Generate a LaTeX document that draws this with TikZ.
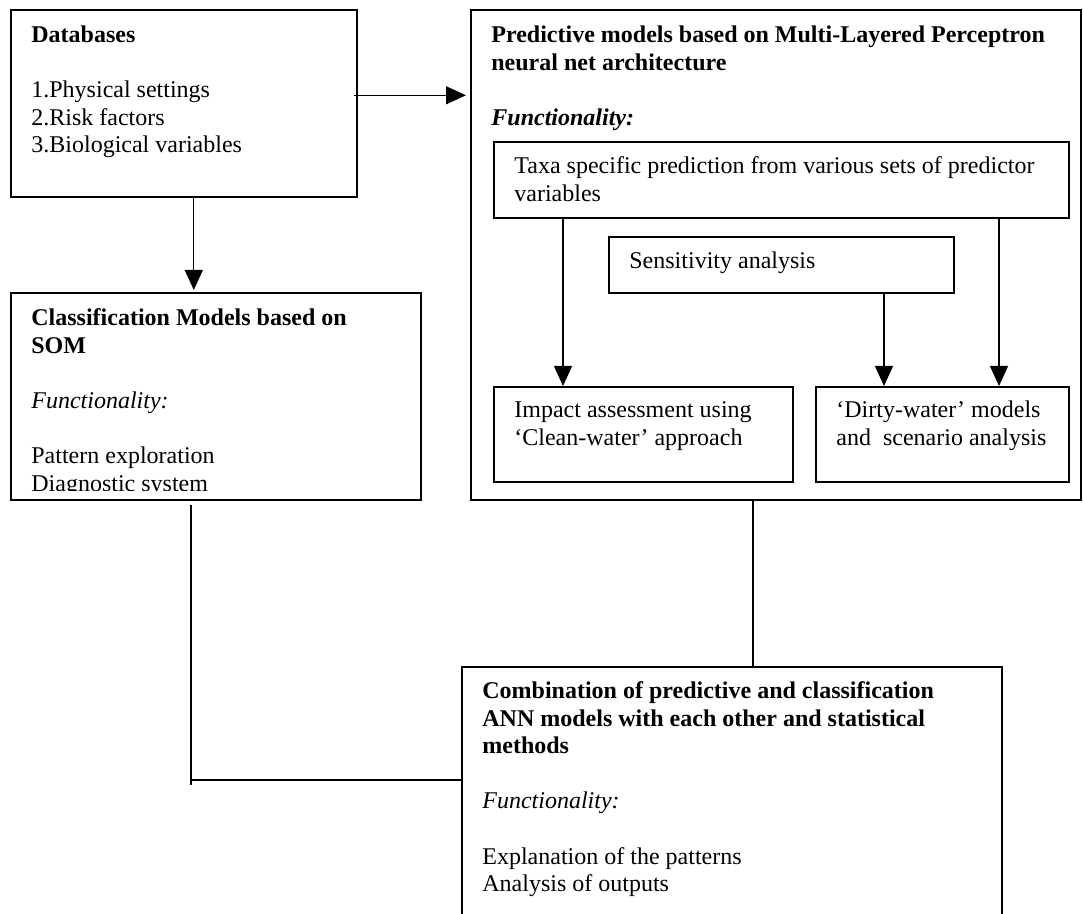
\documentclass[tikz,border=0pt]{standalone}
\usepackage{fontspec}
\setmainfont{Liberation Serif}
\usetikzlibrary{arrows.meta}

\begin{document}
\begin{tikzpicture}[x=0.5pt,y=-0.5pt,
  box/.style={draw, line width=0.8pt, inner sep=0pt, anchor=north west},
  txt/.style={inner sep=0pt, anchor=north west, align=left, font=\fontsize{12}{13.8}\selectfont},
  link/.style={line width=0.6pt},
  arr/.style={line width=0.6pt, -{Triangle[length=10pt,width=9pt]}}]
\useasboundingbox (0,0) rectangle (1083,914);
\clip (0,0) rectangle (1083,914);
\node[box, minimum width=173pt, minimum height=93.5pt] (db) at (10,9) {};
\node[box, minimum width=305pt, minimum height=245pt] (pred) at (470,9) {};
\node[box, minimum width=287.5pt, minimum height=38pt] (taxa) at (493,141) {};
\node[box, minimum width=172.5pt, minimum height=28pt] (sens) at (608,236) {};
\node[box, minimum width=149.5pt, minimum height=47.5pt] (impact) at (493,386) {};
\node[box, minimum width=126.5pt, minimum height=47.5pt] (dirty) at (815,386) {};
\node[box, minimum width=205pt, minimum height=103.5pt] (cls) at (10,292) {};
\node[box, minimum width=270pt, minimum height=140pt] (comb) at (461,666) {};
\node[txt] (dbtext) at (31,22.7) {\strut\textbf{Databases}\\[13.8pt]
  1.Physical settings\\ 2.Risk factors\\ 3.Biological variables};
\node[txt] (predtext) at (491,22.7) {\strut\textbf{Predictive models based on Multi-Layered Perceptron}\\
  \textbf{neural net architecture}\\[13.8pt] \textbf{\textit{Functionality:}}};
\node[txt] (taxatext) at (514,153.7) {\strut Taxa specific prediction from various sets of predictor\\ variables};
\node[txt] (senstext) at (629,248.7) {\strut Sensitivity analysis};
\node[txt] (impacttext) at (514,397.7) {\strut Impact assessment using\\ ‘Clean-water’ approach};
\node[txt] (dirtytext) at (836,397.7) {\strut ‘Dirty-water’ models\\ and~ scenario analysis};
\begin{scope}
\clip (0,0) rectangle (1083,491);
\node[txt] (clstext) at (31,305.7) {\strut\textbf{Classification Models based on}\\ \textbf{SOM}\\[13.8pt]
  \textit{Functionality:}\\[13.8pt] Pattern exploration\\ Diagnostic system};
\end{scope}
\node[txt] (combtext) at (482,678.7) {\strut\textbf{Combination of predictive and classification}\\
  \textbf{ANN models with each other and statistical}\\ \textbf{methods}\\[13.8pt]
  \textit{Functionality:}\\[13.8pt] Explanation of the patterns\\ Analysis of outputs};
\coordinate (dbout) at ([shift={(-4,-8)}]db.east);
\draw[arr, shorten >=2pt] (dbout) -- (dbout -| pred.west);
\draw[arr, shorten >=1pt] ([shift={(10,0)}]db.south) -- ([shift={(10,0)}]db.south |- cls.north);
\draw[arr] ([shift={(70,0)}]taxa.south west) -- ([shift={(70,0)}]taxa.south west |- impact.north);
\draw[arr] ([shift={(276,0)}]sens.south west) -- ([shift={(276,0)}]sens.south west |- dirty.north);
\draw[arr] ([shift={(506,0)}]taxa.south west) -- ([shift={(506,0)}]taxa.south west |- dirty.north);
\draw[link] ([shift={(283,0)}]pred.south west) -- ([shift={(283,0)}]pred.south west |- comb.north);
\coordinate (clsout) at ([shift={(181,4)}]cls.south west);
\coordinate (clscorner) at (clsout |- 0,780);
\draw[link] (clsout) -- ([shift={(0,5)}]clscorner);
\draw[link] (clscorner) -- (clscorner -| comb.west);
\end{tikzpicture}
\end{document}
